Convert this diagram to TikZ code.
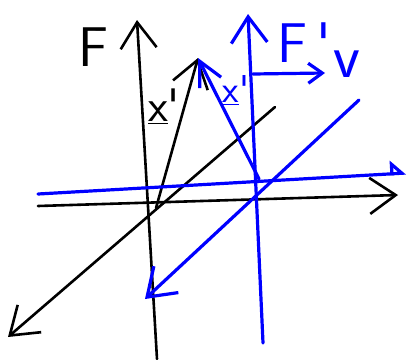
\documentclass[tikz,border=0pt]{standalone}
\usepackage{tikz}
\usetikzlibrary{arrows.meta}

\begin{document}
\begin{tikzpicture}[x=1pt, y=-1pt, line cap=round, line join=round,
    >={Straight Barb[length=26pt, width=36pt]},
    inkF/.style={black, line width=2.6pt},
    inkG/.style={blue, line width=3.2pt},
    lbl/.style={inner sep=0pt, font=\sffamily\fontsize{56}{56}\selectfont}]
  \useasboundingbox (0,0) rectangle (411,359);

  % Frame F
  \coordinate (Fbot) at (157,359);
  \coordinate (Ftop) at (137,20);
  \coordinate (Fleft) at (38,206);
  \coordinate (Fright) at (398,195);
  \coordinate (Fback) at (275,107);
  \coordinate (Ffront) at (8,337);
  \coordinate (Fo) at (156,208);
  \coordinate (Xtip) at (198,58);
  \draw[inkF, ->] (Fbot) -- (Ftop);
  \draw[inkF, ->] (Fleft) -- (Fright);
  \draw[inkF, ->] (Fback) -- (Ffront);
  \draw[inkF, ->] (Fo) -- (Xtip);
  \node[lbl] (Flbl) at (93,47) {F};
  \node[lbl, font=\sffamily\fontsize{46}{46}\selectfont] (xF) at (164,106) {\underline{x}\textquotesingle};

  % Frame F'
  \coordinate (Gbot) at (263,343);
  \coordinate (Gtop) at (248,14);
  \coordinate (Gleft) at (38,194);
  \coordinate (Gright) at (406,173);
  \coordinate (Gback) at (359,100);
  \coordinate (Gfront) at (145,299);
  \coordinate (Go) at (259,179);
  \coordinate (vfrom) at (253,74);
  \coordinate (vto) at (325,73);
  \draw[inkG, ->] (Gbot) -- (Gtop);
  \draw[inkG, -{Triangle[open, left, length=14pt, width=26pt]}] (Gleft) -- (Gright);
  \draw[inkG, ->] (Gback) -- (Gfront);
  \draw[inkG, -{Straight Barb[length=24pt, width=24pt]}] (Go) -- (Xtip);
  \draw[inkG, -{Straight Barb[length=14pt, width=20pt]}] (vfrom) -- (vto);
  \node[lbl, blue] (Glbl) at (304,43) {F\,\textquotesingle};
  \node[lbl, blue, font=\sffamily\fontsize{62}{62}\selectfont] (vlbl) at (347,64) {v};
  \node[lbl, blue, font=\sffamily\fontsize{38}{38}\selectfont] (xG) at (236,90) {\underline{x}\textquotesingle};
\end{tikzpicture}
\end{document}
